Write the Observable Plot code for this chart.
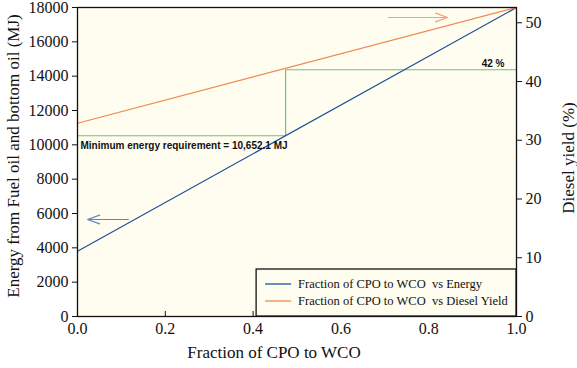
<!DOCTYPE html>
<html><head><meta charset="utf-8">
<script src="https://cdn.jsdelivr.net/npm/d3@7"></script>
<script src="https://cdn.jsdelivr.net/npm/@observablehq/plot@0.6"></script>
<style>body{margin:0;background:#fff;} #chart svg{display:block;}</style>
</head><body><div id="chart"></div>
<script>
// ---- data ----
const fraction = [0, 1];
const energy = [3800, 18000];          // MJ
const dieselYield = [32.9, 52.6];      // %
const minFraction = 0.474;
const minEnergyLevel = 10530;          // drawn level of the green line
const minLabel = "Minimum energy requirement = 10,652.1 MJ";
const yieldAtMin = 42;
const yieldLabel = "42 %";
const xTicks = [0, 0.2, 0.4, 0.6, 0.8, 1.0];
const energyTicks = [0, 2000, 4000, 6000, 8000, 10000, 12000, 14000, 16000, 18000];
const yieldTicks = [0, 10, 20, 30, 40, 50];
const seriesNames = ["Fraction of CPO to WCO  vs Energy", "Fraction of CPO to WCO  vs Diesel Yield"];
const energyMax = 18000;
const yieldMax = 52.6;

const k = energyMax / yieldMax;
const blue = "#1d4f9c", orange = "#f0874c", green = "#79bd74";
const energyRows = fraction.map((f, i) => ({f, v: energy[i]}));
const yieldRows = fraction.map((f, i) => ({f, v: dieselYield[i] * k}));
const greenPath = [
  {f: 0, v: minEnergyLevel},
  {f: minFraction, v: minEnergyLevel},
  {f: minFraction, v: yieldAtMin * k},
  {f: 1, v: yieldAtMin * k}
];

const plot = Plot.plot({
  width: 577, height: 368,
  marginLeft: 77, marginRight: 61, marginTop: 7, marginBottom: 52,
  style: {fontFamily: "Liberation Serif", fontSize: "16px", color: "#111", background: "white"},
  x: {domain: [0, 1]},
  y: {domain: [0, energyMax]},
  marks: [
    Plot.frame({fill: "#fefdf0", stroke: "none"}),
    Plot.line(greenPath, {x: "f", y: "v", stroke: green, strokeWidth: 1.2}),
    Plot.line(energyRows, {x: "f", y: "v", stroke: blue, strokeWidth: 1.2}),
    Plot.line(yieldRows, {x: "f", y: "v", stroke: orange, strokeWidth: 1.2}),
    Plot.arrow([{x1: 0.116, x2: 0.023, y: 5650}], {x1: "x1", x2: "x2", y1: "y", y2: "y", stroke: "#5f83c4", strokeWidth: 1.2, headLength: 16, headAngle: 40}),
    Plot.arrow([{x1: 0.708, x2: 0.843, y: 50.9 * k}], {x1: "x1", x2: "x2", y1: "y", y2: "y", stroke: "#f3a07c", strokeWidth: 1.2, headLength: 16, headAngle: 40}),
    Plot.text([minLabel], {x: 0, y: minEnergyLevel, text: d => d, textAnchor: "start", dx: 3, dy: 10, fontFamily: "Liberation Sans", fontWeight: "bold", fontSize: 10, fill: "#111"}),
    Plot.text([yieldLabel], {x: 1, y: yieldAtMin * k, text: d => d, textAnchor: "end", dx: -12, dy: -6, fontFamily: "Liberation Sans", fontWeight: "bold", fontSize: 10, fill: "#111"}),
    Plot.frame({stroke: "#111", strokeWidth: 1.3}),
    Plot.axisX({ticks: xTicks, tickSize: 5, dy: -5, tickFormat: () => "", label: null, stroke: "#111"}),
    Plot.axisX({ticks: xTicks, tickSize: 0, tickPadding: 6, tickFormat: d3.format(".1f"), label: null, fontSize: 16}),
    Plot.axisY({ticks: energyTicks, tickSize: 5, tickPadding: 4, tickFormat: d => String(d), label: null, fontSize: 16}),
    Plot.axisY({anchor: "right", ticks: yieldTicks.map(v => v * k), tickSize: 5, tickPadding: 4, tickFormat: d => String(Math.round(d / k)), label: null, fontSize: 16}),
    Plot.text(["Energy from Fuel oil and bottom oil (MJ)"], {frameAnchor: "left", textAnchor: "middle", text: d => d, rotate: -90, dx: -64, dy: -6, fontSize: 17, fill: "#111"}),
    Plot.text(["Diesel yield (%)"], {frameAnchor: "right", textAnchor: "middle", text: d => d, rotate: -90, dx: 52, dy: -4, fontSize: 17, fill: "#111"}),
    Plot.text(["Fraction of CPO to WCO"], {frameAnchor: "bottom", textAnchor: "middle", text: d => d, dx: -23, dy: 41, fontSize: 17, fill: "#111"})
  ]
});

// legend box inside the plot area, bottom-right
const sx = plot.scale("x"), sy = plot.scale("y");
const svg = d3.select(plot);
const lx0 = sx.apply(0.408), lx1 = sx.apply(1), ly1 = sy.apply(0), ly0 = ly1 - 47;
const g = svg.append("g");
g.append("rect").attr("x", lx0).attr("y", ly0).attr("width", lx1 - lx0).attr("height", ly1 - ly0)
  .attr("fill", "#fefdf0").attr("stroke", "#111").attr("stroke-width", 1.3);
[blue, orange].forEach((c, i) => {
  const yy = ly0 + 15 + i * 17;
  g.append("line").attr("x1", lx0 + 9).attr("x2", lx0 + 35).attr("y1", yy).attr("y2", yy)
    .attr("stroke", c).attr("stroke-width", 1.3);
  g.append("text").attr("x", lx0 + 42).attr("y", yy).attr("dy", "0.35em")
    .attr("text-anchor", "start")
    .attr("font-family", "Liberation Serif").attr("font-size", 12.5).attr("fill", "#111")
    .text(seriesNames[i]);
});
document.getElementById("chart").append(plot);
</script>
</body></html>
